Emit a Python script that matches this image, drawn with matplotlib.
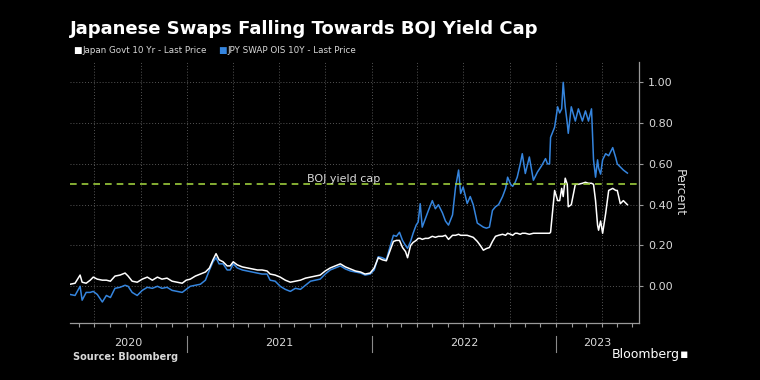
import numpy as np
import pandas as pd
import matplotlib
matplotlib.use("Agg")
import matplotlib.pyplot as plt
import matplotlib.dates as mdates

dates = [
    "2020-05-14", "2020-05-24", "2020-06-03", "2020-06-07", "2020-06-15", "2020-06-23", "2020-06-29",
    "2020-07-07", "2020-07-17", "2020-07-25", "2020-08-02", "2020-08-11", "2020-08-21", "2020-08-31",
    "2020-09-06", "2020-09-14", "2020-09-24", "2020-10-04", "2020-10-14", "2020-10-24", "2020-11-03",
    "2020-11-12", "2020-11-22", "2020-12-02", "2020-12-12", "2020-12-22", "2020-12-30",
    "2021-01-07", "2021-01-17", "2021-01-27", "2021-02-06", "2021-02-14", "2021-02-21", "2021-02-27",
    "2021-03-05", "2021-03-13", "2021-03-21", "2021-03-27", "2021-04-02", "2021-04-10", "2021-04-20",
    "2021-04-30", "2021-05-10", "2021-05-20", "2021-05-29", "2021-06-08", "2021-06-14", "2021-06-24",
    "2021-07-04", "2021-07-14", "2021-07-24", "2021-08-03", "2021-08-13", "2021-08-23", "2021-09-02",
    "2021-09-11", "2021-09-21", "2021-10-01", "2021-10-11", "2021-10-21", "2021-10-31", "2021-11-10",
    "2021-11-20", "2021-11-30", "2021-12-10", "2021-12-19", "2021-12-29",
    "2022-01-06", "2022-01-14", "2022-01-22", "2022-01-30", "2022-02-07", "2022-02-13", "2022-02-19",
    "2022-02-25", "2022-03-03", "2022-03-09", "2022-03-13", "2022-03-19", "2022-03-24", "2022-03-30",
    "2022-04-03", "2022-04-07", "2022-04-11", "2022-04-17", "2022-04-23", "2022-05-01", "2022-05-07",
    "2022-05-13", "2022-05-21", "2022-05-27", "2022-06-02", "2022-06-10", "2022-06-16", "2022-06-22",
    "2022-06-26", "2022-07-01", "2022-07-09", "2022-07-15", "2022-07-21", "2022-07-29", "2022-08-04",
    "2022-08-10", "2022-08-16", "2022-08-22", "2022-08-28", "2022-09-03", "2022-09-09", "2022-09-17",
    "2022-09-23", "2022-09-27", "2022-10-03", "2022-10-07", "2022-10-12", "2022-10-16", "2022-10-22",
    "2022-10-26", "2022-11-01", "2022-11-09", "2022-11-17", "2022-11-25", "2022-12-03", "2022-12-11",
    "2022-12-15", "2022-12-19", "2022-12-21", "2022-12-29",
    "2023-01-04", "2023-01-08", "2023-01-12", "2023-01-15", "2023-01-19", "2023-01-23", "2023-01-25",
    "2023-01-31", "2023-02-08", "2023-02-14", "2023-02-22", "2023-02-28", "2023-03-06", "2023-03-12",
    "2023-03-16", "2023-03-20", "2023-03-24", "2023-03-26", "2023-03-30", "2023-04-03", "2023-04-09",
    "2023-04-15", "2023-04-23", "2023-04-29", "2023-05-02", "2023-05-08", "2023-05-14", "2023-05-22",
]

jgb_10y = [
    0.010, 0.015, 0.055, 0.020, 0.015, 0.030, 0.045,
    0.035, 0.030, 0.030, 0.025, 0.050, 0.055, 0.065,
    0.050, 0.025, 0.020, 0.035, 0.045, 0.030, 0.045,
    0.035, 0.040, 0.025, 0.020, 0.015, 0.030,
    0.035, 0.050, 0.060, 0.070, 0.090, 0.130, 0.160,
    0.130, 0.120, 0.100, 0.100, 0.120, 0.105, 0.095,
    0.090, 0.085, 0.080, 0.080, 0.075, 0.060, 0.055,
    0.045, 0.030, 0.020, 0.025, 0.030, 0.040, 0.045,
    0.050, 0.055, 0.075, 0.090, 0.100, 0.110, 0.095,
    0.085, 0.075, 0.070, 0.060, 0.065,
    0.090, 0.140, 0.130, 0.125, 0.180, 0.220, 0.225,
    0.225, 0.190, 0.170, 0.140, 0.200, 0.215, 0.225,
    0.235, 0.235, 0.230, 0.235, 0.235, 0.245, 0.240,
    0.245, 0.245, 0.250, 0.230, 0.250, 0.250, 0.255,
    0.250, 0.250, 0.250, 0.245, 0.240, 0.220, 0.200,
    0.177, 0.185, 0.190, 0.220, 0.245, 0.250, 0.255,
    0.250, 0.260, 0.255, 0.250, 0.260, 0.260, 0.255,
    0.260, 0.260, 0.255, 0.260, 0.260, 0.260, 0.260,
    0.260, 0.260, 0.265, 0.470, 0.420,
    0.420, 0.480, 0.440, 0.530, 0.500, 0.390, 0.400,
    0.500, 0.500, 0.505, 0.510, 0.505, 0.505, 0.500,
    0.420, 0.300, 0.275, 0.320, 0.260, 0.357, 0.470,
    0.480, 0.470, 0.470, 0.405, 0.420, 0.400, 0.370,
]

jpy_ois_10y = [
    -0.040, -0.045, 0.000, -0.068, -0.030, -0.030, -0.025,
    -0.040, -0.077, -0.045, -0.055, -0.010, -0.005, 0.005,
    0.000, -0.030, -0.045, -0.020, -0.005, -0.010, 0.000,
    -0.010, -0.005, -0.020, -0.025, -0.030, -0.015,
    0.000, 0.005, 0.010, 0.030, 0.080, 0.120, 0.140,
    0.110, 0.110, 0.080, 0.080, 0.110, 0.090, 0.080,
    0.075, 0.070, 0.065, 0.060, 0.060, 0.030, 0.025,
    0.000, -0.015, -0.025, -0.010, -0.015, 0.005, 0.025,
    0.030, 0.035, 0.060, 0.080, 0.090, 0.100, 0.085,
    0.075, 0.070, 0.065, 0.055, 0.060,
    0.080, 0.145, 0.140, 0.130, 0.200, 0.250, 0.245,
    0.265, 0.225, 0.200, 0.186, 0.220, 0.260, 0.300,
    0.315, 0.405, 0.290, 0.330, 0.370, 0.420, 0.380,
    0.400, 0.360, 0.320, 0.300, 0.350, 0.487, 0.570,
    0.455, 0.487, 0.406, 0.440, 0.400, 0.310, 0.300,
    0.290, 0.285, 0.290, 0.372, 0.390, 0.400, 0.440,
    0.480, 0.535, 0.500, 0.490, 0.510, 0.535, 0.600,
    0.650, 0.553, 0.634, 0.520, 0.560, 0.590, 0.626,
    0.600, 0.600, 0.730, 0.780, 0.880,
    0.850, 0.870, 1.000, 0.880, 0.800, 0.750, 0.880,
    0.810, 0.870, 0.810, 0.860, 0.810, 0.870, 0.620,
    0.535, 0.620, 0.580, 0.550, 0.620, 0.650, 0.640,
    0.680, 0.630, 0.600, 0.585, 0.570, 0.555, 0.535,
]

yield_cap = 0.5
years = [2020, 2021, 2022, 2023]
y_ticks = [0.0, 0.2, 0.4, 0.6, 0.8, 1.0]

dates = pd.to_datetime(dates)
n = min(len(dates), len(jgb_10y), len(jpy_ois_10y))

bg = "black"
fg = "#d9d9d9"
blue = "#3585de"
green = "#9ccc3c"
grid_c = "#555555"

fig = plt.figure(figsize=(7.6, 3.8), dpi=100, facecolor=bg)
ax = fig.add_axes([0.0921, 0.15, 0.7487, 0.687])
ax.set_facecolor(bg)

ax.plot(dates[:n], jpy_ois_10y[:n], color=blue, lw=1.1, zorder=2)
ax.plot(dates[:n], jgb_10y[:n], color="white", lw=1.1, zorder=3)
ax.axhline(yield_cap, color=green, lw=1.2, ls=(0, (4, 3)), zorder=4)
ax.text(pd.Timestamp("2021-11-06"), yield_cap + 0.025, "BOJ yield cap", color=fg,
        fontsize=8, ha="center", va="center", zorder=5)

x0, x1 = pd.Timestamp("2020-05-14"), pd.Timestamp("2023-06-14")
ax.set_xlim(x0, x1)
ax.set_ylim(-0.18, 1.10)

ax.yaxis.tick_right()
ax.yaxis.set_label_position("right")
ax.set_yticks(y_ticks)
ax.set_yticklabels([f"{v:.2f}" for v in y_ticks])
ax.set_ylabel("Percent", color=fg, fontsize=9, rotation=270, labelpad=9)

ax.xaxis.set_major_locator(mdates.MonthLocator(bymonth=[1, 4, 7, 10]))
ax.xaxis.set_minor_locator(mdates.MonthLocator())
ax.xaxis.set_major_formatter(plt.NullFormatter())
ax.tick_params(axis="x", which="both", length=3, color="#9a9a9a", width=0.8)
ax.tick_params(axis="y", length=3, color="#9a9a9a", labelcolor=fg, labelsize=8, width=0.8)

ax.grid(True, which="major", color=grid_c, ls=(0, (1, 2)), lw=0.7)

for side in ["top", "left"]:
    ax.spines[side].set_visible(False)
for side in ["bottom", "right"]:
    ax.spines[side].set_color("#9a9a9a")
    ax.spines[side].set_linewidth(0.9)

# year labels centred on the visible part of each year, separators at year starts
trans = ax.get_xaxis_transform()
for yr in years:
    start = max(pd.Timestamp(f"{yr}-01-01"), x0)
    end = min(pd.Timestamp(f"{yr + 1}-01-01"), x1)
    mid = start + (end - start) / 2
    ax.text(mid, -0.078, str(yr), transform=trans, color=fg, fontsize=8,
            ha="center", va="center")
    if yr > years[0]:
        ax.plot([pd.Timestamp(f"{yr}-01-01")] * 2, [-0.05, -0.11], transform=trans,
                color="#8a8a8a", lw=0.8, clip_on=False)

fig.text(0.092, 0.925, "Japanese Swaps Falling Towards BOJ Yield Cap", color="white",
         fontsize=13.0, fontweight="bold", ha="left", va="center")

# legend
fig.text(0.096, 0.866, "■", color="white", fontsize=6.5, ha="left", va="center")
fig.text(0.108, 0.866, "Japan Govt 10 Yr - Last Price", color=fg, fontsize=6.3,
         ha="left", va="center")
fig.text(0.287, 0.866, "■", color=blue, fontsize=6.5, ha="left", va="center")
fig.text(0.299, 0.866, "JPY SWAP OIS 10Y - Last Price", color=fg, fontsize=6.3,
         ha="left", va="center")

fig.text(0.096, 0.06, "Source: Bloomberg", color=fg, fontsize=7, fontweight="bold",
         ha="left", va="center")
fig.text(0.805, 0.066, "Bloomberg", color="white", fontsize=9, ha="left", va="center")
fig.text(0.895, 0.066, "▪", color="white", fontsize=9, ha="left", va="center")

fig.savefig("out.png", dpi=100, facecolor=bg)
